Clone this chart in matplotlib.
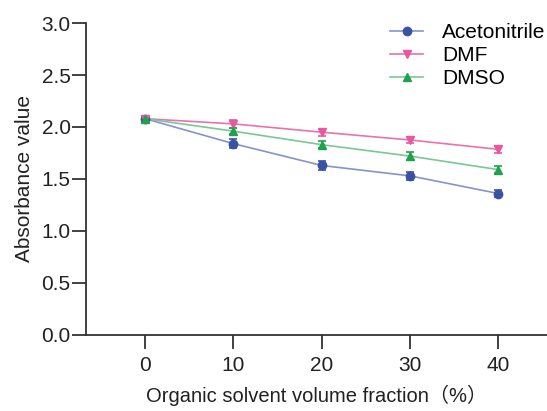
import matplotlib
matplotlib.use('Agg')
import matplotlib.pyplot as plt

plt.rcParams['font.family'] = ['Liberation Sans', 'Noto Sans CJK SC', 'DejaVu Sans']

# Volume fraction of organic solvent (%)
fractions = [0, 10, 20, 30, 40]

# Absorbance readings per solvent
acetonitrile = [2.08, 1.84, 1.63, 1.53, 1.36]
dmf = [2.08, 2.03, 1.95, 1.875, 1.785]
dmso = [2.08, 1.96, 1.83, 1.72, 1.59]

# Error bars (SD)
acetonitrile_err = [0.03, 0.04, 0.04, 0.035, 0.03]
dmf_err = [0.02, 0.04, 0.035, 0.03, 0.035]
dmso_err = [0.02, 0.03, 0.035, 0.035, 0.035]

series = [
  ('Acetonitrile', acetonitrile, acetonitrile_err, 'o', '#3953a4', '#8593cc'),
  ('DMF', dmf, dmf_err, 'v', '#e9579f', '#ec71ad'),
  ('DMSO', dmso, dmso_err, '^', '#1ea24c', '#78c993'),
]

fig = plt.figure(figsize=(5.47, 4.11), dpi=100)
ax = fig.add_axes([0.157, 0.185, 0.843, 0.759])

for name, vals, err, marker, mcolor, lcolor in series:
  ax.plot(fractions, vals, color=lcolor, linewidth=1.2, zorder=2)
  ax.errorbar(fractions, vals, yerr=err, fmt=marker, color=mcolor,
              markersize=6, capsize=3, elinewidth=1.2, capthick=1.2, zorder=3)
  # legend proxy
  ax.plot([], [], color=lcolor, linewidth=1.2, marker=marker,
          markerfacecolor=mcolor, markeredgecolor=mcolor, markersize=6, label=name)

ax.set_xlim(-6.7, 45.5)
ax.set_ylim(0, 3.0)
ax.set_xticks(fractions)
ax.set_yticks([0, 0.5, 1.0, 1.5, 2.0, 2.5, 3.0])
ax.set_yticklabels(['0.0', '0.5', '1.0', '1.5', '2.0', '2.5', '3.0'])

for s in ['top', 'right']:
  ax.spines[s].set_visible(False)
for s in ['left', 'bottom']:
  ax.spines[s].set_linewidth(1.3)
  ax.spines[s].set_color('#333333')

ax.tick_params(axis='both', labelsize=15, width=1.3, length=10, color='#333333', labelcolor='#222222')
ax.tick_params(axis='x', pad=5)
ax.tick_params(axis='y', pad=1)

ax.set_xlabel('Organic solvent volume fraction（%）', fontsize=14.5, color='#222222', labelpad=7)
ax.set_ylabel('Absorbance value', fontsize=15, color='#222222', labelpad=5)

handles, labels = ax.get_legend_handles_labels()
ax.legend(handles[-3:], labels[-3:], loc='upper right', frameon=False, fontsize=15,
          handlelength=1.6, handletextpad=0.9, labelspacing=0.2,
          bbox_to_anchor=(1.037, 1.06))

fig.savefig('out.png', dpi=100)
